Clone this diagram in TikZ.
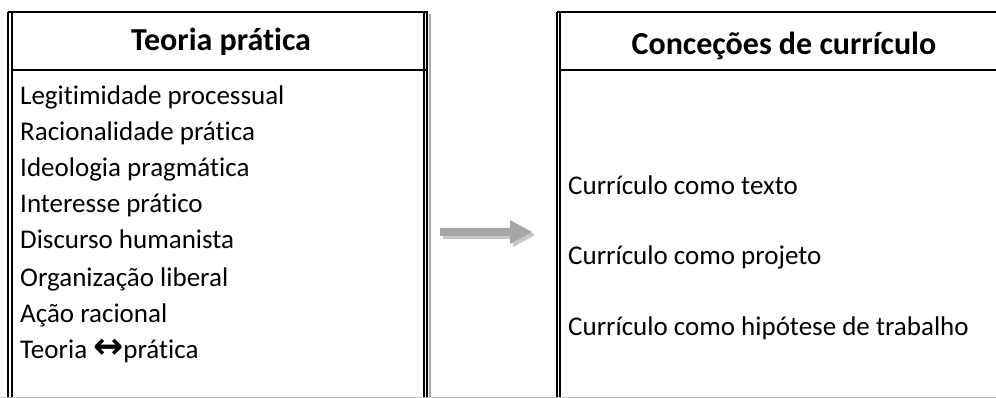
\documentclass[tikz,border=0pt]{standalone}
\usepackage{fontspec}
\setmainfont{Carlito}[Ligatures={NoCommon}]
\newfontfamily\arrowfont{DejaVu Sans}

\tikzset{
  frame/.style={line width=1.3pt, black},
  item/.style={anchor=base west, inner sep=0pt, font=\fontsize{27}{33}\selectfont},
  heading/.style={anchor=base, inner sep=0pt, font=\fontsize{32}{38}\selectfont\bfseries},
}

\begin{document}
\begin{tikzpicture}[x=1pt, y=-1pt]
    \useasboundingbox (0,0) rectangle (996,398);

    % Left frame (double side rules)
    \draw[frame] (8,12) -- (8,398);
    \draw[frame] (12,12) -- (12,398);
    \draw[frame] (8,12) -- (428,12);
    \draw[frame] (12,70) -- (427,70);
    \draw[line width=1.2pt, gray!70] (430,14) -- (430,398);
    \draw[frame] (424,12) -- (424,398);
    \draw[frame] (427,12) -- (427,398);

    % Right frame
    \draw[frame] (557,12) -- (557,398);
    \draw[frame] (560,12) -- (560,398);
    \draw[frame] (557,12) -- (996,12);
    \draw[frame] (560,70) -- (996,70);

    % Bottom rule
    \draw[line width=1pt, gray!50] (0,397) -- (996,397);

    % Headings
    \node[heading] (pratica) at (221,51) {Teoria prática};
    \node[heading] (concecoes) at (784,55) {Conceções de currículo};

    % Left list
    \node[item] (legit) at (20,105) {Legitimidade processual};
    \node[item] (racional) at (20,141) {Racionalidade prática};
    \node[item] (ideo) at (20,177) {Ideologia pragmática};
    \node[item] (interesse) at (20,213) {Interesse prático};
    \node[item] (discurso) at (20,249) {Discurso humanista};
    \node[item] (organizacao) at (20,286) {Organização liberal};
    \node[item] (acao) at (20,322) {Ação racional};
    \node[item] (teoria) at (20,358) {Teoria {\arrowfont\bfseries\fontsize{36}{36}\selectfont ↔}prática};

    % Right list
    \node[item] (texto) at (568,195) {Currículo como texto};
    \node[item] (projeto) at (568,265) {Currículo como projeto};
    \node[item] (hipotese) at (568,335) {Currículo como hipótese de trabalho};

    % Block arrow with shadow
    \fill[gray!45] (443,231) -- (513,231) -- (513,223) -- (535,235)
        -- (513,247) -- (513,239) -- (443,239) -- cycle;
    \fill[gray!70] (440,228) -- (510,228) -- (510,220) -- (532,232)
        -- (510,244) -- (510,236) -- (440,236) -- cycle;
\end{tikzpicture}
\end{document}
